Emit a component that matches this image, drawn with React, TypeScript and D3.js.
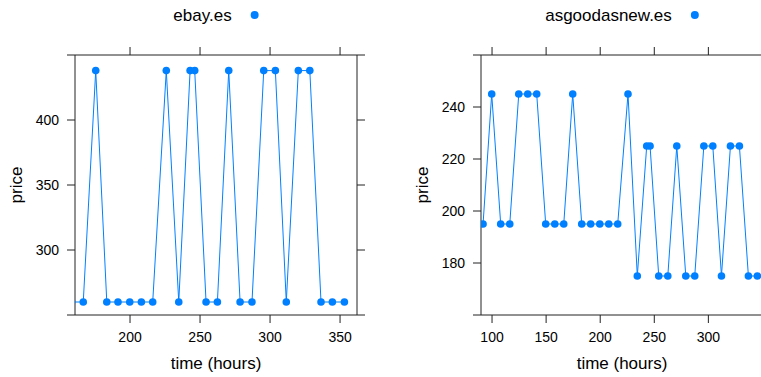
import React, { useEffect, useRef } from "react";
import * as d3 from "d3";

// Observation times (hours) and listed prices for each shop
const ebayHours = [158.3, 166.6, 175.5, 183.4, 191.4, 199.8, 208.1, 216.2, 225.9, 234.8, 242.9, 246.2, 254.3, 262.4, 270.5, 278.6, 287.1, 295.5, 303.8, 311.6, 320.2, 328.4, 336.4, 344.5, 353.1];
const ebayPrices = [260, 260, 438, 260, 260, 260, 260, 260, 438, 260, 438, 438, 260, 260, 438, 260, 260, 438, 438, 260, 438, 438, 260, 260, 260];

const agnHours = [91.7, 99.7, 108.0, 116.4, 124.7, 133.0, 141.3, 149.6, 158.0, 166.3, 174.6, 182.9, 191.2, 199.6, 207.9, 216.2, 225.7, 234.3, 243.0, 246.1, 254.1, 262.5, 270.8, 279.1, 287.4, 295.8, 304.1, 312.1, 320.4, 328.7, 337.0, 345.3];
const agnPrices = [195, 245, 195, 195, 245, 245, 245, 195, 195, 195, 245, 195, 195, 195, 195, 195, 245, 175, 225, 225, 175, 175, 225, 175, 175, 225, 225, 175, 225, 225, 175, 175];

const ebayHourTicks = [200, 250, 300, 350];
const ebayPriceTicks = [300, 350, 400];
const agnHourTicks = [100, 150, 200, 250, 300];
const agnPriceTicks = [180, 200, 220, 240];

const ebayHourLimits: [number, number] = [160.7, 362.1];
const ebayPriceLimits: [number, number] = [250, 450];
const agnHourLimits: [number, number] = [89.8, 350.5];
const agnPriceLimits: [number, number] = [160, 260];

const COLOR = "#0080ff";
const FONT = "'Liberation Sans', Arial, Helvetica, sans-serif";
const W = 761;
const H = 377;

interface PanelSpec {
  id: string;
  name: string;
  hours: number[];
  prices: number[];
  xLim: [number, number];
  yLim: [number, number];
  xTicks: number[];
  yTicks: number[];
  left: number;
}

export default function App() {
  const ref = useRef<SVGSVGElement | null>(null);

  useEffect(() => {
    const svg = d3.select(ref.current);
    svg.selectAll("*").remove();

    const top = 55;
    const bottom = 315;
    const pw = 282;
    const tickLen = 8;

    const panels: PanelSpec[] = [
      { id: "ebay", name: "ebay.es", hours: ebayHours, prices: ebayPrices, xLim: ebayHourLimits, yLim: ebayPriceLimits, xTicks: ebayHourTicks, yTicks: ebayPriceTicks, left: 75 },
      { id: "agn", name: "asgoodasnew.es", hours: agnHours, prices: agnPrices, xLim: agnHourLimits, yLim: agnPriceLimits, xTicks: agnHourTicks, yTicks: agnPriceTicks, left: 481 },
    ];

    const defs = svg.append("defs");

    panels.forEach((p) => {
      const right = p.left + pw;
      const x = d3.scaleLinear().domain(p.xLim).range([p.left, right]);
      const y = d3.scaleLinear().domain(p.yLim).range([bottom, top]);
      const g = svg.append("g");

      defs.append("clipPath").attr("id", `clip-${p.id}`)
        .append("rect").attr("x", p.left).attr("y", top).attr("width", pw).attr("height", bottom - top);

      // frame: horizontal axis lines run past the panel by one tick length
      const frame = g.append("g").attr("stroke", "#222").attr("stroke-width", 1).attr("fill", "none");
      [top, bottom].forEach((yy) =>
        frame.append("line").attr("x1", p.left - tickLen).attr("x2", right + tickLen).attr("y1", yy).attr("y2", yy));
      [p.left, right].forEach((xx) =>
        frame.append("line").attr("x1", xx).attr("x2", xx).attr("y1", top).attr("y2", bottom));

      // ticks
      p.xTicks.forEach((t) => {
        frame.append("line").attr("x1", x(t)).attr("x2", x(t)).attr("y1", bottom).attr("y2", bottom + tickLen);
        frame.append("line").attr("x1", x(t)).attr("x2", x(t)).attr("y1", top).attr("y2", top - tickLen);
        g.append("text").attr("x", x(t)).attr("y", 342).attr("text-anchor", "middle")
          .attr("font-family", FONT).attr("font-size", 14).attr("fill", "#000").text(String(t));
      });
      p.yTicks.forEach((t) => {
        frame.append("line").attr("x1", p.left - tickLen).attr("x2", p.left).attr("y1", y(t)).attr("y2", y(t));
        frame.append("line").attr("x1", right).attr("x2", right + tickLen).attr("y1", y(t)).attr("y2", y(t));
        g.append("text").attr("x", p.left - 16).attr("y", y(t)).attr("dy", "0.35em").attr("text-anchor", "end")
          .attr("font-family", FONT).attr("font-size", 14).attr("fill", "#000").text(String(t));
      });

      // axis titles
      g.append("text").attr("x", (p.left + right) / 2).attr("y", 369).attr("text-anchor", "middle")
        .attr("font-family", FONT).attr("font-size", 17).attr("fill", "#000").text("time (hours)");
      g.append("text").attr("transform", `translate(${p.left - 53},${(top + bottom) / 2}) rotate(-90)`)
        .attr("text-anchor", "middle").attr("font-family", FONT).attr("font-size", 17).attr("fill", "#000").text("price");

      // series
      const pts = p.hours.map((h, i) => [h, p.prices[i]] as [number, number]);
      const line = d3.line<[number, number]>().x((d) => x(d[0])).y((d) => y(d[1]));
      const data = g.append("g").attr("clip-path", `url(#clip-${p.id})`);
      data.append("path").attr("d", line(pts) ?? "").attr("fill", "none").attr("stroke", COLOR).attr("stroke-width", 1);
      data.selectAll("circle").data(pts).enter().append("circle")
        .attr("cx", (d) => x(d[0])).attr("cy", (d) => y(d[1])).attr("r", 3.8).attr("fill", COLOR);

      // key above the panel
      const center = (p.left + right) / 2;
      const label = g.append("text").attr("y", 21).attr("font-family", FONT).attr("font-size", 17).attr("fill", "#000").text(p.name);
      const tw = (label.node() as SVGTextElement).getComputedTextLength();
      const total = tw + 27;
      const start = center - total / 2;
      label.attr("x", start);
      g.append("circle").attr("cx", start + tw + 23).attr("cy", 15).attr("r", 4).attr("fill", COLOR);
    });
  }, []);

  return (
    <svg ref={ref} width={W} height={H} style={{ position: "absolute", left: 0, top: 0, background: "#fff" }} />
  );
}
